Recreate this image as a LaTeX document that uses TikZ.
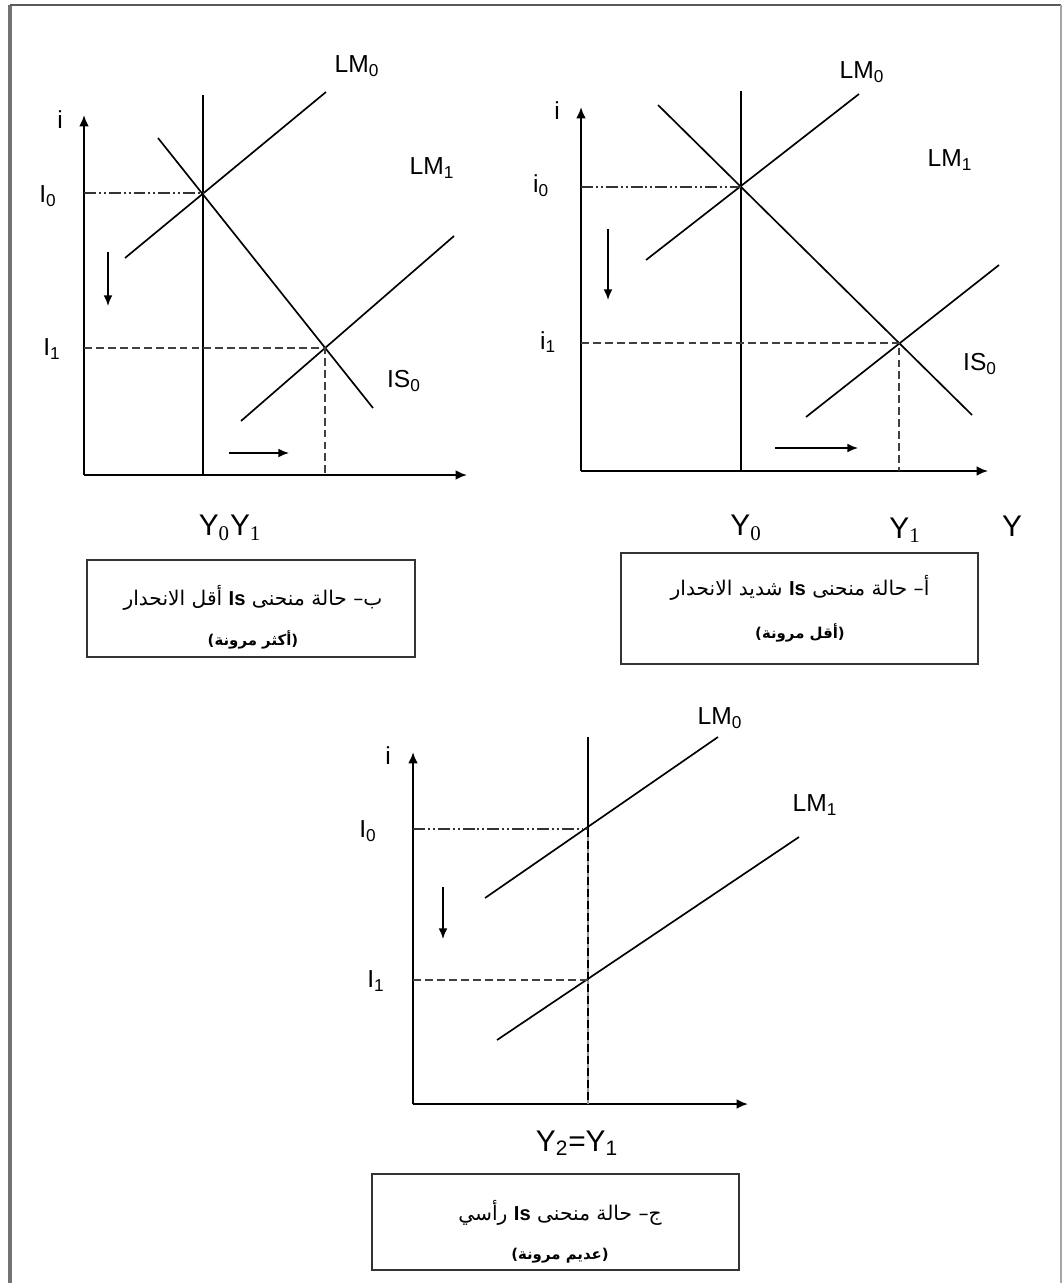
\documentclass[tikz,border=0pt]{standalone}
\usepackage{fontspec}
\setmainfont{Liberation Sans}
\newfontfamily\arabicfont[Script=Arabic]{DejaVu Sans}
\newfontfamily\subserif{Liberation Serif}
\TeXXeTstate=1
\usetikzlibrary{arrows.meta}

\newcommand{\sublab}[2]{#1\textsubscript{#2}}
\newcommand{\isword}{\beginL{\normalfont\bfseries Is}\endL}

\begin{document}
\begin{tikzpicture}[x=0.02cm,y=-0.02cm,
  axis/.style={line width=1.1pt,-{Latex[length=6.5pt,width=5.5pt]}},
  curve/.style={line width=0.95pt},
  guide/.style={line width=0.9pt,black!75,dash pattern=on 4.5pt off 2.3pt},
  guidedd/.style={line width=0.8pt,black!80,dash pattern=on 6.8pt off 1.7pt on 1.1pt off 1.7pt on 1.1pt off 1.7pt},
  drift/.style={line width=0.95pt,-{Latex[length=6pt,width=5pt]}},
  lab/.style={font=\fontsize{14}{16}\selectfont,inner sep=0pt},
  ylab/.style={font=\fontsize{17}{19}\selectfont,inner sep=0pt},
  capbox/.style={draw=black!80,line width=1.2pt,inner sep=0pt,outer sep=0pt},
  capline/.style={font=\arabicfont\fontsize{11.5}{13}\selectfont,inner sep=0pt},
  capsub/.style={font=\arabicfont\bfseries\fontsize{8.5}{10}\selectfont,inner sep=0pt}]
  \useasboundingbox (0,0) rectangle (1062,1283);
  % page frame
  \draw[black!55,line width=2.2pt] (10,1283) -- (10,5);
  \draw[black!65,line width=1.2pt] (10,5) -- (1061,5);
  \draw[black!35,line width=1pt] (1061,5) -- (1061,1283);

  % ---- panel b (left)
  \coordinate (bO) at (84,475); \coordinate (bI) at (84,115); \coordinate (bY) at (467,475);
  \coordinate (bE0) at (203,193); \coordinate (bE1) at (325,348);
  \draw[axis] (bO) -- (bI);
  \draw[axis] (bO) -- (bY);
  \draw[curve] (203,95) -- (203,475);
  \draw[curve] (125,258) -- (326,92);
  \draw[curve] (158,138) -- (373,408);
  \draw[curve] (241,421) -- (454,236);
  \draw[guidedd] (84,193) -- (bE0);
  \draw[guide] (84,348) -- (bE1) -- (325,475);
  \draw[drift] (108,252) -- (108,306);
  \draw[drift] (229,453) -- (289,453);
  \node[lab] (bi) at (60,120) {i};
  \node[lab] (bi0) at (48,196) {\sublab{I}{0}};
  \node[lab] (bi1) at (52,349) {\sublab{I}{1}};
  \node[lab] (blm0) at (357,66) {\sublab{LM}{0}};
  \node[lab] (blm1) at (432,168) {\sublab{LM}{1}};
  \node[lab] (bis0) at (404,381) {\sublab{IS}{0}};
  \node[ylab] (by01) at (230,528) {Y\textsubscript{\subserif 0}Y\textsubscript{\subserif 1}};
  \node[capbox,minimum width=6.56cm,minimum height=1.94cm] (bbox) at (251,608.5) {};
  \node[capline] (bcap1) at (253,598) {\beginR ب– حالة منحنى \isword{} أقل الانحدار\endR};
  \node[capsub] (bcap2) at (253,640) {\beginR (أكثر مرونة)\endR};

  % ---- panel a (right)
  \coordinate (aO) at (581,471); \coordinate (aI) at (581,107); \coordinate (aY) at (988,471);
  \coordinate (aE0) at (741,187); \coordinate (aE1) at (899,343);
  \draw[axis] (aO) -- (aI);
  \draw[axis] (aO) -- (aY);
  \draw[curve] (741,91) -- (741,471);
  \draw[curve] (646,260) -- (859,94);
  \draw[curve] (658,105) -- (972,415);
  \draw[curve] (806,417) -- (999,265);
  \draw[guidedd] (581,187) -- (aE0);
  \draw[guide] (581,343) -- (aE1) -- (899,471);
  \draw[drift] (608,229) -- (608,300);
  \draw[drift] (775,448) -- (858,448);
  \node[lab] (ai) at (557,111) {i};
  \node[lab] (ai0) at (541,186) {\sublab{i}{0}};
  \node[lab] (ai1) at (548,342) {\sublab{i}{1}};
  \node[lab] (alm0) at (862,72) {\sublab{LM}{0}};
  \node[lab] (alm1) at (950,160) {\sublab{LM}{1}};
  \node[lab] (ais0) at (980,364) {\sublab{IS}{0}};
  \node[ylab] (ay0) at (746,528) {Y\textsubscript{\subserif 0}};
  \node[ylab] (ay1) at (905,530) {Y\textsubscript{\subserif 1}};
  \node[ylab] (ay) at (1012,526) {Y};
  \node[capbox,minimum width=7.14cm,minimum height=2.22cm] (abox) at (799.5,608.5) {};
  \node[capline] (acap1) at (800,588) {\beginR أ– حالة منحنى \isword{} شديد الانحدار\endR};
  \node[capsub] (acap2) at (800,633) {\beginR (أقل مرونة)\endR};

  % ---- panel c (bottom)
  \coordinate (cO) at (413,1104); \coordinate (cI) at (413,752); \coordinate (cY) at (748,1104);
  \coordinate (cE0) at (588,829); \coordinate (cE1) at (588,980);
  \draw[axis] (cO) -- (cI);
  \draw[axis] (cO) -- (cY);
  \draw[curve] (588,737) -- (cE0);
  \draw[black!40,line width=0.6pt] (cE0) -- (588,1104);
  \draw[guide,black] (cE0) -- (588,1104);
  \draw[curve] (485,898) -- (718,737);
  \draw[curve] (497,1040) -- (799,837);
  \draw[guidedd] (413,829) -- (cE0);
  \draw[guide] (413,980) -- (cE1);
  \draw[drift] (443,887) -- (443,939);
  \node[lab] (ci) at (388,756) {i};
  \node[lab] (ci0) at (368,831) {\sublab{I}{0}};
  \node[lab] (ci1) at (376,981) {\sublab{I}{1}};
  \node[lab] (clm0) at (720,718) {\sublab{LM}{0}};
  \node[lab] (clm1) at (815,805) {\sublab{LM}{1}};
  \node[ylab] (cy21) at (577,1143) {\sublab{Y}{2}=\sublab{Y}{1}};
  \node[capbox,minimum width=7.34cm,minimum height=1.92cm] (cbox) at (555.5,1222) {};
  \node[capline] (ccap1) at (560,1213) {\beginR ج– حالة منحنى \isword{} رأسي\endR};
  \node[capsub] (ccap2) at (560,1256) {\beginR (عديم مرونة)\endR};
\end{tikzpicture}
\end{document}
